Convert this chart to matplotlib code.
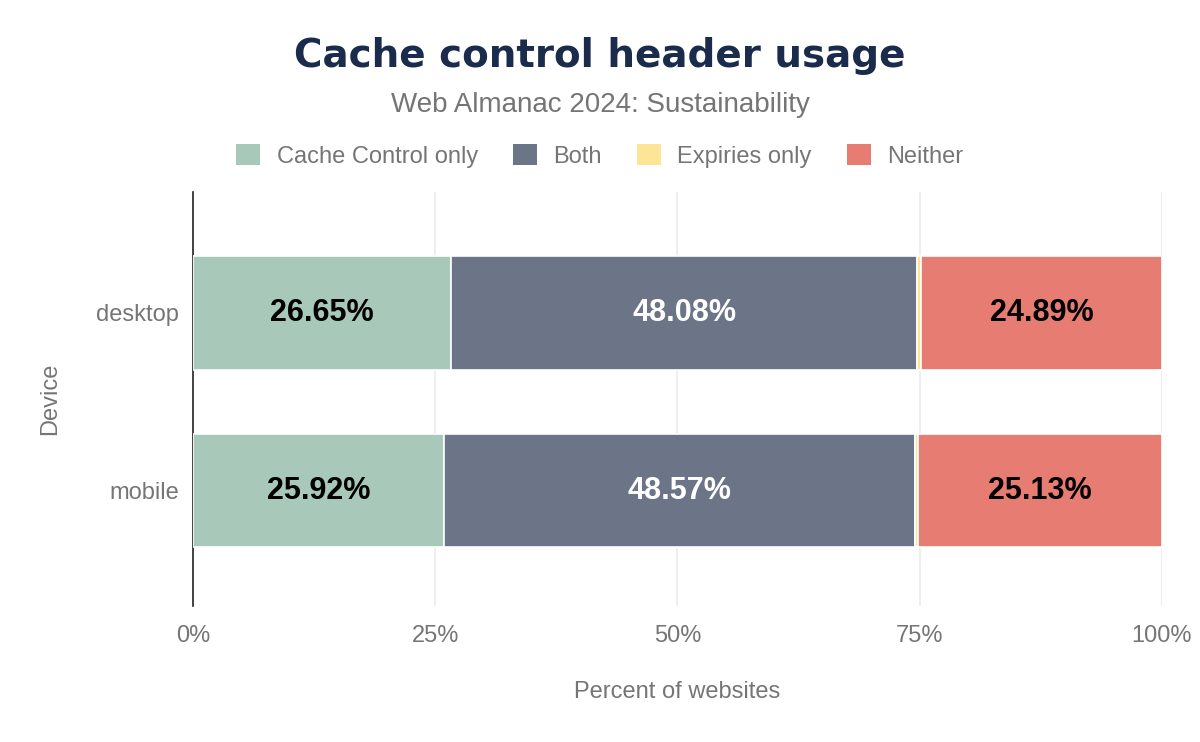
import numpy as np
import matplotlib.pyplot as plt
from matplotlib.patches import Patch

plt.rcParams['font.family'] = ['Liberation Sans', 'DejaVu Sans']

devices = ['mobile', 'desktop']
series = ['Cache Control only', 'Both', 'Expiries only', 'Neither']
cache_only = [25.92, 26.65]
both = [48.57, 48.08]
expiries_only = [0.38, 0.38]
neither = [25.13, 24.89]
colors = ['#a8c8b9', '#6b7587', '#fde597', '#e77c73']
label_colors = ['black', 'white', None, 'black']

fig = plt.figure(figsize=(12, 7.42), dpi=100)
ax = fig.add_axes([0.1608, 0.1833, 0.8075, 0.5579])

y = np.arange(len(devices))
left = np.zeros(len(devices))
for vals, col, lc in zip([cache_only, both, expiries_only, neither], colors, label_colors):
    vals = np.array(vals)
    ax.barh(y, vals, left=left, height=0.64, color=col, edgecolor='white', linewidth=1.2, zorder=3)
    if lc is not None:
        for yi, l, v in zip(y, left, vals):
            ax.text(l + v / 2, yi, f'{v:.2f}%', ha='center', va='center',
                    fontsize=22, fontweight='bold', color=lc, zorder=4)
    left += vals

ax.set_xlim(0, 100)
ax.set_ylim(-0.65, 1.68)
ax.set_yticks(y)
ax.set_yticklabels(devices, fontsize=17, color='#757575')
ax.set_xticks([0, 25, 50, 75, 100])
ax.set_xticklabels(['0%', '25%', '50%', '75%', '100%'], fontsize=17, color='#757575')
ax.tick_params(axis='both', length=0, pad=10)
ax.tick_params(axis='x', pad=14)
ax.grid(axis='x', color='#ebebeb', linewidth=1.2, zorder=0)
for s in ['top', 'right', 'bottom']:
    ax.spines[s].set_visible(False)
ax.spines['left'].set_color('#222222')
ax.spines['left'].set_linewidth(1.2)
ax.set_xlabel('Percent of websites', fontsize=17, color='#757575', labelpad=24)
ax.set_ylabel('Device', fontsize=17, color='#757575', labelpad=25)

fig.text(0.5, 0.925, 'Cache control header usage', ha='center', va='center',
         fontsize=28, fontweight='heavy', color='#1a2b4c', family=['DejaVu Sans'])
fig.text(0.5, 0.859, 'Web Almanac 2024: Sustainability', ha='center', va='center',
         fontsize=20, color='#757575')

handles = [Patch(facecolor=c, edgecolor='none') for c in colors]
fig.legend(handles, series, loc='center', bbox_to_anchor=(0.5, 0.79), ncol=4,
           frameon=False, fontsize=17, labelcolor='#757575', handlelength=1.0,
           handleheight=1.0, columnspacing=1.5, handletextpad=0.7)

fig.savefig('out.png', dpi=100)
